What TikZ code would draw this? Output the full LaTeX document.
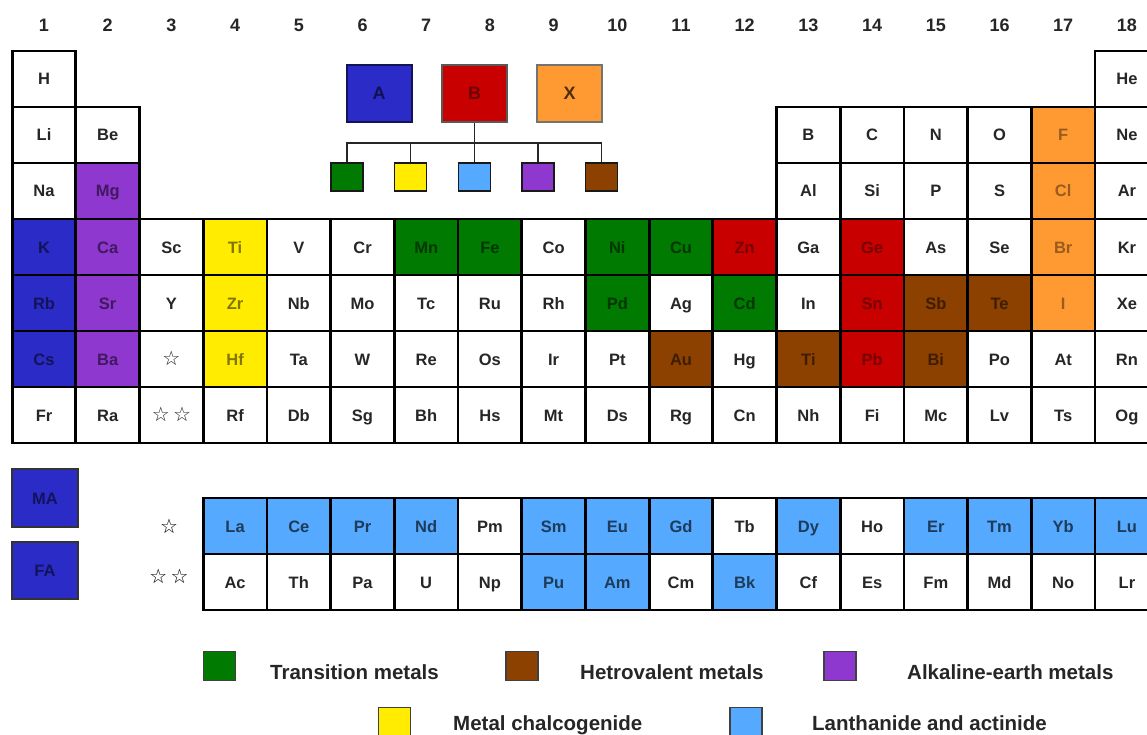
\documentclass[tikz,border=0pt]{standalone}
\usepackage{fontspec}
\setmainfont{Liberation Sans}
\newfontfamily\symfont{DejaVu Sans}
\definecolor{cA}{HTML}{2B2BC8}
\definecolor{cB}{HTML}{C80000}
\definecolor{cX}{HTML}{FF9A33}
\definecolor{cTM}{HTML}{007A00}
\definecolor{cYe}{HTML}{FFEC00}
\definecolor{cLn}{HTML}{55AAFF}
\definecolor{cAE}{HTML}{8F38D0}
\definecolor{cHV}{HTML}{8C4100}
\begin{document}
\begin{tikzpicture}[x=1pt,y=-1pt,
  cell/.style={draw=black, line width=2.8pt, minimum width=63.7pt, minimum height=56pt, inner sep=0pt,
    text height=12pt, text depth=0pt,
    font=\fontsize{16.5}{18}\selectfont\bfseries},
  wh/.style={fill=white, text=black!85},
  bl/.style={fill=cA, text=cA!45!black},
  rd/.style={fill=cB, text=cB!60!black},
  ox/.style={fill=cX, text=cX!60!black},
  tm/.style={fill=cTM, text=cTM!45!black},
  ye/.style={fill=cYe, text=cYe!50!black},
  ln/.style={fill=cLn, text=cLn!35!black},
  ae/.style={fill=cAE, text=cAE!45!black},
  hv/.style={fill=cHV, text=cHV!45!black},
  bigbox/.style={draw=black!65, line width=2pt, minimum width=65pt, minimum height=57pt, inner sep=0pt,
    text height=13pt, text depth=0pt,
    font=\fontsize{18}{20}\selectfont\bfseries},
  smallbox/.style={draw=black!90, line width=1.5pt, minimum width=32pt, minimum height=28pt, inner sep=0pt},
  legbox/.style={draw=black!75, line width=1.3pt, minimum width=32pt, minimum height=29pt, inner sep=0pt},
  legtext/.style={anchor=base west, inner sep=0pt, text=black!85, font=\fontsize{20.5}{22}\selectfont\bfseries},
  colnum/.style={inner sep=0pt, text=black!85, text height=13pt, text depth=0pt, font=\fontsize{18}{20}\selectfont\bfseries},
  star/.style={font=\symfont\bfseries\fontsize{20}{22}\selectfont},
  conn/.style={draw=black!85, line width=1.5pt}
]
\useasboundingbox (0,0) rectangle (1147,735);
\fill[white] (0,0) rectangle (1147,735);
% column numbers
\foreach \c in {1,...,18}
  \node[colnum] (n\c) at ({44+(\c-1)*63.7},25) {\c};
% main table
\foreach \c/\r/\s/\k in {
 1/1/H/wh, 18/1/He/wh,
 1/2/Li/wh, 2/2/Be/wh, 13/2/B/wh, 14/2/C/wh, 15/2/N/wh, 16/2/O/wh, 17/2/F/ox, 18/2/Ne/wh,
 1/3/Na/wh, 2/3/Mg/ae, 13/3/Al/wh, 14/3/Si/wh, 15/3/P/wh, 16/3/S/wh, 17/3/Cl/ox, 18/3/Ar/wh,
 1/4/K/bl, 2/4/Ca/ae, 3/4/Sc/wh, 4/4/Ti/ye, 5/4/V/wh, 6/4/Cr/wh, 7/4/Mn/tm, 8/4/Fe/tm, 9/4/Co/wh,
 10/4/Ni/tm, 11/4/Cu/tm, 12/4/Zn/rd, 13/4/Ga/wh, 14/4/Ge/rd, 15/4/As/wh, 16/4/Se/wh, 17/4/Br/ox, 18/4/Kr/wh,
 1/5/Rb/bl, 2/5/Sr/ae, 3/5/Y/wh, 4/5/Zr/ye, 5/5/Nb/wh, 6/5/Mo/wh, 7/5/Tc/wh, 8/5/Ru/wh, 9/5/Rh/wh,
 10/5/Pd/tm, 11/5/Ag/wh, 12/5/Cd/tm, 13/5/In/wh, 14/5/Sn/rd, 15/5/Sb/hv, 16/5/Te/hv, 17/5/I/ox, 18/5/Xe/wh,
 1/6/Cs/bl, 2/6/Ba/ae, 4/6/Hf/ye, 5/6/Ta/wh, 6/6/W/wh, 7/6/Re/wh, 8/6/Os/wh, 9/6/Ir/wh,
 10/6/Pt/wh, 11/6/Au/hv, 12/6/Hg/wh, 13/6/Ti/hv, 14/6/Pb/rd, 15/6/Bi/hv, 16/6/Po/wh, 17/6/At/wh, 18/6/Rn/wh,
 1/7/Fr/wh, 2/7/Ra/wh, 4/7/Rf/wh, 5/7/Db/wh, 6/7/Sg/wh, 7/7/Bh/wh, 8/7/Hs/wh, 9/7/Mt/wh,
 10/7/Ds/wh, 11/7/Rg/wh, 12/7/Cn/wh, 13/7/Nh/wh, 14/7/Fi/wh, 15/7/Mc/wh, 16/7/Lv/wh, 17/7/Ts/wh, 18/7/Og/wh,
 4/9/La/ln, 5/9/Ce/ln, 6/9/Pr/ln, 7/9/Nd/ln, 8/9/Pm/wh, 9/9/Sm/ln, 10/9/Eu/ln, 11/9/Gd/ln, 12/9/Tb/wh,
 13/9/Dy/ln, 14/9/Ho/wh, 15/9/Er/ln, 16/9/Tm/ln, 17/9/Yb/ln, 18/9/Lu/ln,
 4/10/Ac/wh, 5/10/Th/wh, 6/10/Pa/wh, 7/10/U/wh, 8/10/Np/wh, 9/10/Pu/ln, 10/10/Am/ln, 11/10/Cm/wh, 12/10/Bk/ln,
 13/10/Cf/wh, 14/10/Es/wh, 15/10/Fm/wh, 16/10/Md/wh, 17/10/No/wh, 18/10/Lr/wh}
  \node[cell,\k] (c\c r\r) at ({44+(\c-1)*63.7},{79+(\r-1)*56-(\r>8)}) {\s};
% star cells
\node[cell,wh,star] (c3r6) at ({44+2*63.7},359) {☆};
\node[cell,wh,star] (c3r7) at ({44+2*63.7},415) {☆\,☆};
\node[inner sep=0pt,star] (starLa) at (169,526) {☆};
\node[inner sep=0pt,star] (starAc) at (169,576) {☆\,☆};
% MA / FA
\node[cell,bl,minimum width=66pt,minimum height=58pt,line width=2.2pt,draw=black!80] (MA) at (45,498) {MA};
\node[cell,bl,minimum width=66pt,minimum height=57pt,line width=2.2pt,draw=black!80] (FA) at (45,570.5) {FA};
% A B X
\node[bigbox,fill=cA,text=cA!40!black,draw=cA!45!black] (A) at (379,93.5) {A};
\node[bigbox,fill=cB,text=cB!55!black] (Bb) at (474.5,93.5) {B};
\node[bigbox,fill=cX,text=cX!30!black,draw=black!55] (X) at (569.5,93.5) {X};
% small boxes
\node[smallbox,fill=cTM] (s1) at (347,177) {};
\node[smallbox,fill=cYe] (s2) at (410.5,177) {};
\node[smallbox,fill=cLn] (s3) at (474.5,177) {};
\node[smallbox,fill=cAE] (s4) at (538,177) {};
\node[smallbox,fill=cHV] (s5) at (601.5,177) {};
\coordinate (J) at (474.5,143);
\draw[conn] (Bb.south) -- (s3.north);
\draw[conn] (s1.north) -- (s1.north |- J) -- (s5.north |- J) -- (s5.north);
\draw[conn] (s2.north) -- (s2.north |- J);
\draw[conn] (s4.north) -- (s4.north |- J);
% legend
\node[legbox,fill=cTM] (l1) at (219.5,666) {};
\node[legtext] (t1) at (270,679) {Transition metals};
\node[legbox,fill=cHV] (l2) at (522,666) {};
\node[legtext] (t2) at (580,679) {Hetrovalent metals};
\node[legbox,fill=cAE] (l3) at (840,666) {};
\node[legtext] (t3) at (907,679) {Alkaline-earth metals};
\node[legbox,fill=cYe] (l4) at (394.5,722) {};
\node[legtext] (t4) at (453,730) {Metal chalcogenide};
\node[legbox,fill=cLn] (l5) at (746,722) {};
\node[legtext] (t5) at (812,730) {Lanthanide and actinide};
\end{tikzpicture}
\end{document}
